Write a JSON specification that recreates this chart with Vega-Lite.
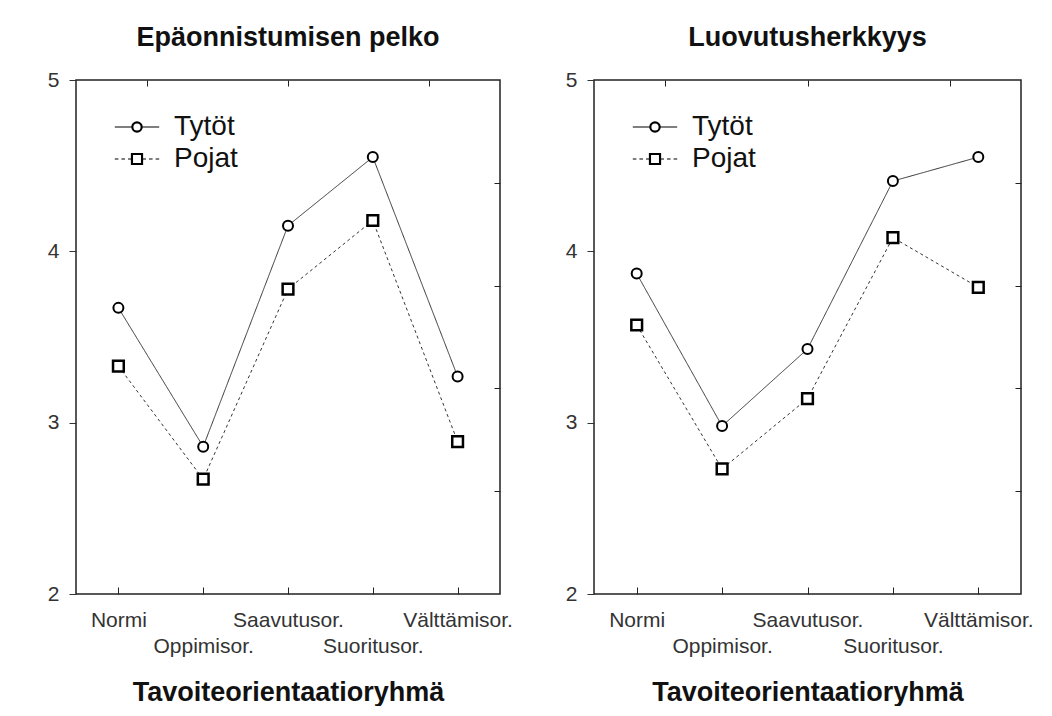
{
  "$schema": "https://vega.github.io/schema/vega-lite/v6.json",
  "background": "white",
  "padding": {"left": 46, "top": 23, "right": 0, "bottom": 0},
  "config": {
    "font": "Liberation Sans",
    "view": {"stroke": "#222", "strokeWidth": 1.5},
    "title": {"fontSize": 27, "fontWeight": "bold", "color": "#111", "font": "Liberation Sans", "offset": 17, "anchor": "middle"},
    "legend": {"orient": "none", "legendX": 47, "title": null, "labelFontSize": 28, "labelColor": "#111", "symbolSize": 144, "labelOffset": 23, "padding": 0, "symbolStrokeWidth": 1.2, "symbolStrokeColor": "black", "symbolFillColor": "white", "symbolOpacity": 1}
  },
  "data": {
    "values": [
      {"mittari": "Epäonnistumisen pelko", "sukupuoli": "Tytöt", "ryhma": "Normi", "arvo": 3.67},
      {"mittari": "Epäonnistumisen pelko", "sukupuoli": "Tytöt", "ryhma": "Oppimisor.", "arvo": 2.86},
      {"mittari": "Epäonnistumisen pelko", "sukupuoli": "Tytöt", "ryhma": "Saavutusor.", "arvo": 4.15},
      {"mittari": "Epäonnistumisen pelko", "sukupuoli": "Tytöt", "ryhma": "Suoritusor.", "arvo": 4.55},
      {"mittari": "Epäonnistumisen pelko", "sukupuoli": "Tytöt", "ryhma": "Välttämisor.", "arvo": 3.27},
      {"mittari": "Epäonnistumisen pelko", "sukupuoli": "Pojat", "ryhma": "Normi", "arvo": 3.33},
      {"mittari": "Epäonnistumisen pelko", "sukupuoli": "Pojat", "ryhma": "Oppimisor.", "arvo": 2.67},
      {"mittari": "Epäonnistumisen pelko", "sukupuoli": "Pojat", "ryhma": "Saavutusor.", "arvo": 3.78},
      {"mittari": "Epäonnistumisen pelko", "sukupuoli": "Pojat", "ryhma": "Suoritusor.", "arvo": 4.18},
      {"mittari": "Epäonnistumisen pelko", "sukupuoli": "Pojat", "ryhma": "Välttämisor.", "arvo": 2.89},
      {"mittari": "Luovutusherkkyys", "sukupuoli": "Tytöt", "ryhma": "Normi", "arvo": 3.87},
      {"mittari": "Luovutusherkkyys", "sukupuoli": "Tytöt", "ryhma": "Oppimisor.", "arvo": 2.98},
      {"mittari": "Luovutusherkkyys", "sukupuoli": "Tytöt", "ryhma": "Saavutusor.", "arvo": 3.43},
      {"mittari": "Luovutusherkkyys", "sukupuoli": "Tytöt", "ryhma": "Suoritusor.", "arvo": 4.41},
      {"mittari": "Luovutusherkkyys", "sukupuoli": "Tytöt", "ryhma": "Välttämisor.", "arvo": 4.55},
      {"mittari": "Luovutusherkkyys", "sukupuoli": "Pojat", "ryhma": "Normi", "arvo": 3.57},
      {"mittari": "Luovutusherkkyys", "sukupuoli": "Pojat", "ryhma": "Oppimisor.", "arvo": 2.73},
      {"mittari": "Luovutusherkkyys", "sukupuoli": "Pojat", "ryhma": "Saavutusor.", "arvo": 3.14},
      {"mittari": "Luovutusherkkyys", "sukupuoli": "Pojat", "ryhma": "Suoritusor.", "arvo": 4.08},
      {"mittari": "Luovutusherkkyys", "sukupuoli": "Pojat", "ryhma": "Välttämisor.", "arvo": 3.79}
    ]
  },
  "spacing": 50,
  "resolve": {"legend": {"stroke": "independent", "fill": "independent"}, "scale": {"x": "independent", "y": "independent"}},
  "hconcat": [
    {
      "width": 424,
      "height": 514,
      "title": {"text": "Epäonnistumisen pelko"},
      "transform": [{"filter": "datum.mittari === 'Epäonnistumisen pelko'"}],
      "layer": [
        {
          "layer": [
            {
              "mark": {"type": "line", "color": "#333", "strokeWidth": 1},
              "encoding": {
                "x": {"field": "ryhma", "type": "ordinal", "sort": ["Normi", "Oppimisor.", "Saavutusor.", "Suoritusor.", "Välttämisor."], "scale": {"padding": 0.5},
                  "axis": {"title": "Tavoiteorientaatioryhmä", "titleFontSize": 27, "titleFontWeight": "bold", "titleColor": "#111", "titlePadding": 23,
                    "labelFontSize": 21, "labelColor": "#333", "labelAngle": 0, "labelOverlap": false, "labelFlush": false, "labelBound": false,
                    "labelPadding": 22, "labelLineHeight": 26, "tickSize": -7, "tickColor": "#222", "domain": false, "grid": false,
                    "labelExpr": "indexof(['Oppimisor.', 'Suoritusor.'], datum.value) >= 0 ? ['', datum.label] : datum.label"}},
                "y": {"field": "arvo", "type": "quantitative", "scale": {"domain": [2, 5], "nice": false, "zero": false},
                  "axis": {"title": null, "values": [2, 3, 4, 5], "format": "d", "labelFontSize": 21, "labelColor": "#333", "tickSize": 7, "tickColor": "#333", "labelPadding": 10, "domain": false, "grid": false}},
                "strokeDash": {"field": "sukupuoli", "type": "nominal", "scale": {"domain": ["Tytöt", "Pojat"], "range": [[1, 0], [3, 3]]}, "legend": null}
              }
            },
            {
              "mark": {"type": "point", "filled": false, "fill": "white", "stroke": "black", "opacity": 1, "fillOpacity": 1},
              "encoding": {
                "x": {"field": "ryhma", "type": "ordinal", "sort": ["Normi", "Oppimisor.", "Saavutusor.", "Suoritusor.", "Välttämisor."]},
                "y": {"field": "arvo", "type": "quantitative"},
                "shape": {"field": "sukupuoli", "type": "nominal", "scale": {"domain": ["Tytöt", "Pojat"], "range": ["circle", "square"]}, "legend": null},
                "size": {"field": "sukupuoli", "type": "nominal", "scale": {"domain": ["Tytöt", "Pojat"], "range": [100, 115]}, "legend": null},
                "strokeWidth": {"field": "sukupuoli", "type": "nominal", "scale": {"domain": ["Tytöt", "Pojat"], "range": [2, 2.5]}, "legend": null}
              }
            }
          ]
        },
        {
          "mark": {"type": "point", "opacity": 0},
          "encoding": {
            "x": {"datum": 0, "type": "quantitative", "scale": {"domain": [0, 1], "nice": false},
              "axis": {"orient": "top", "values": [0.1667, 0.5, 0.8333], "labels": false, "domain": false, "grid": false, "tickSize": -6, "tickColor": "#222", "title": null}},
            "y": {"datum": 0, "type": "quantitative", "scale": {"domain": [0, 1], "nice": false},
              "axis": {"orient": "right", "values": [0.2, 0.4, 0.6, 0.8], "labels": false, "domain": false, "grid": false, "tickSize": -6, "tickColor": "#222", "title": null}},
            "stroke": {"field": "sukupuoli", "type": "nominal", "scale": {"domain": ["Tytöt"], "range": ["black"]},
              "legend": {"legendY": 33, "symbolType": "M-3.7,0L-0.86,0M0.86,0L3.7,0M-0.86,0A0.86,0.86,0,1,0,0.86,0A0.86,0.86,0,1,0,-0.86,0M-0.7,0A0.7,0.7,0,1,0,0.7,0A0.7,0.7,0,1,0,-0.7,0"}},
            "fill": {"field": "sukupuoli", "type": "nominal", "scale": {"domain": ["Pojat"], "range": ["white"]},
              "legend": {"legendY": 65, "symbolType": "M-3.7,0L-3.1,0M-2.6,0L-2.0,0M-1.5,0L-1.0,0M1.0,0L1.5,0M2.0,0L2.6,0M3.1,0L3.7,0M-0.92,-0.92L0.92,-0.92L0.92,0.92L-0.92,0.92ZM-0.76,-0.76L0.76,-0.76L0.76,0.76L-0.76,0.76Z"}}
          }
        }
      ],
      "resolve": {"scale": {"x": "independent", "y": "independent"}}
    },
    {
      "width": 427,
      "height": 514,
      "title": {"text": "Luovutusherkkyys"},
      "transform": [{"filter": "datum.mittari === 'Luovutusherkkyys'"}],
      "layer": [
        {
          "layer": [
            {
              "mark": {"type": "line", "color": "#333", "strokeWidth": 1},
              "encoding": {
                "x": {"field": "ryhma", "type": "ordinal", "sort": ["Normi", "Oppimisor.", "Saavutusor.", "Suoritusor.", "Välttämisor."], "scale": {"padding": 0.5},
                  "axis": {"title": "Tavoiteorientaatioryhmä", "titleFontSize": 27, "titleFontWeight": "bold", "titleColor": "#111", "titlePadding": 23,
                    "labelFontSize": 21, "labelColor": "#333", "labelAngle": 0, "labelOverlap": false, "labelFlush": false, "labelBound": false,
                    "labelPadding": 22, "labelLineHeight": 26, "tickSize": -7, "tickColor": "#222", "domain": false, "grid": false,
                    "labelExpr": "indexof(['Oppimisor.', 'Suoritusor.'], datum.value) >= 0 ? ['', datum.label] : datum.label"}},
                "y": {"field": "arvo", "type": "quantitative", "scale": {"domain": [2, 5], "nice": false, "zero": false},
                  "axis": {"title": null, "values": [2, 3, 4, 5], "format": "d", "labelFontSize": 21, "labelColor": "#333", "tickSize": 7, "tickColor": "#333", "labelPadding": 10, "domain": false, "grid": false}},
                "strokeDash": {"field": "sukupuoli", "type": "nominal", "scale": {"domain": ["Tytöt", "Pojat"], "range": [[1, 0], [3, 3]]}, "legend": null}
              }
            },
            {
              "mark": {"type": "point", "filled": false, "fill": "white", "stroke": "black", "opacity": 1, "fillOpacity": 1},
              "encoding": {
                "x": {"field": "ryhma", "type": "ordinal", "sort": ["Normi", "Oppimisor.", "Saavutusor.", "Suoritusor.", "Välttämisor."]},
                "y": {"field": "arvo", "type": "quantitative"},
                "shape": {"field": "sukupuoli", "type": "nominal", "scale": {"domain": ["Tytöt", "Pojat"], "range": ["circle", "square"]}, "legend": null},
                "size": {"field": "sukupuoli", "type": "nominal", "scale": {"domain": ["Tytöt", "Pojat"], "range": [100, 115]}, "legend": null},
                "strokeWidth": {"field": "sukupuoli", "type": "nominal", "scale": {"domain": ["Tytöt", "Pojat"], "range": [2, 2.5]}, "legend": null}
              }
            }
          ]
        },
        {
          "mark": {"type": "point", "opacity": 0},
          "encoding": {
            "x": {"datum": 0, "type": "quantitative", "scale": {"domain": [0, 1], "nice": false},
              "axis": {"orient": "top", "values": [0.1667, 0.5, 0.8333], "labels": false, "domain": false, "grid": false, "tickSize": -6, "tickColor": "#222", "title": null}},
            "y": {"datum": 0, "type": "quantitative", "scale": {"domain": [0, 1], "nice": false},
              "axis": {"orient": "right", "values": [0.2, 0.4, 0.6, 0.8], "labels": false, "domain": false, "grid": false, "tickSize": -6, "tickColor": "#222", "title": null}},
            "stroke": {"field": "sukupuoli", "type": "nominal", "scale": {"domain": ["Tytöt"], "range": ["black"]},
              "legend": {"legendY": 33, "symbolType": "M-3.7,0L-0.86,0M0.86,0L3.7,0M-0.86,0A0.86,0.86,0,1,0,0.86,0A0.86,0.86,0,1,0,-0.86,0M-0.7,0A0.7,0.7,0,1,0,0.7,0A0.7,0.7,0,1,0,-0.7,0"}},
            "fill": {"field": "sukupuoli", "type": "nominal", "scale": {"domain": ["Pojat"], "range": ["white"]},
              "legend": {"legendY": 65, "symbolType": "M-3.7,0L-3.1,0M-2.6,0L-2.0,0M-1.5,0L-1.0,0M1.0,0L1.5,0M2.0,0L2.6,0M3.1,0L3.7,0M-0.92,-0.92L0.92,-0.92L0.92,0.92L-0.92,0.92ZM-0.76,-0.76L0.76,-0.76L0.76,0.76L-0.76,0.76Z"}}
          }
        }
      ],
      "resolve": {"scale": {"x": "independent", "y": "independent"}}
    }
  ]
}
